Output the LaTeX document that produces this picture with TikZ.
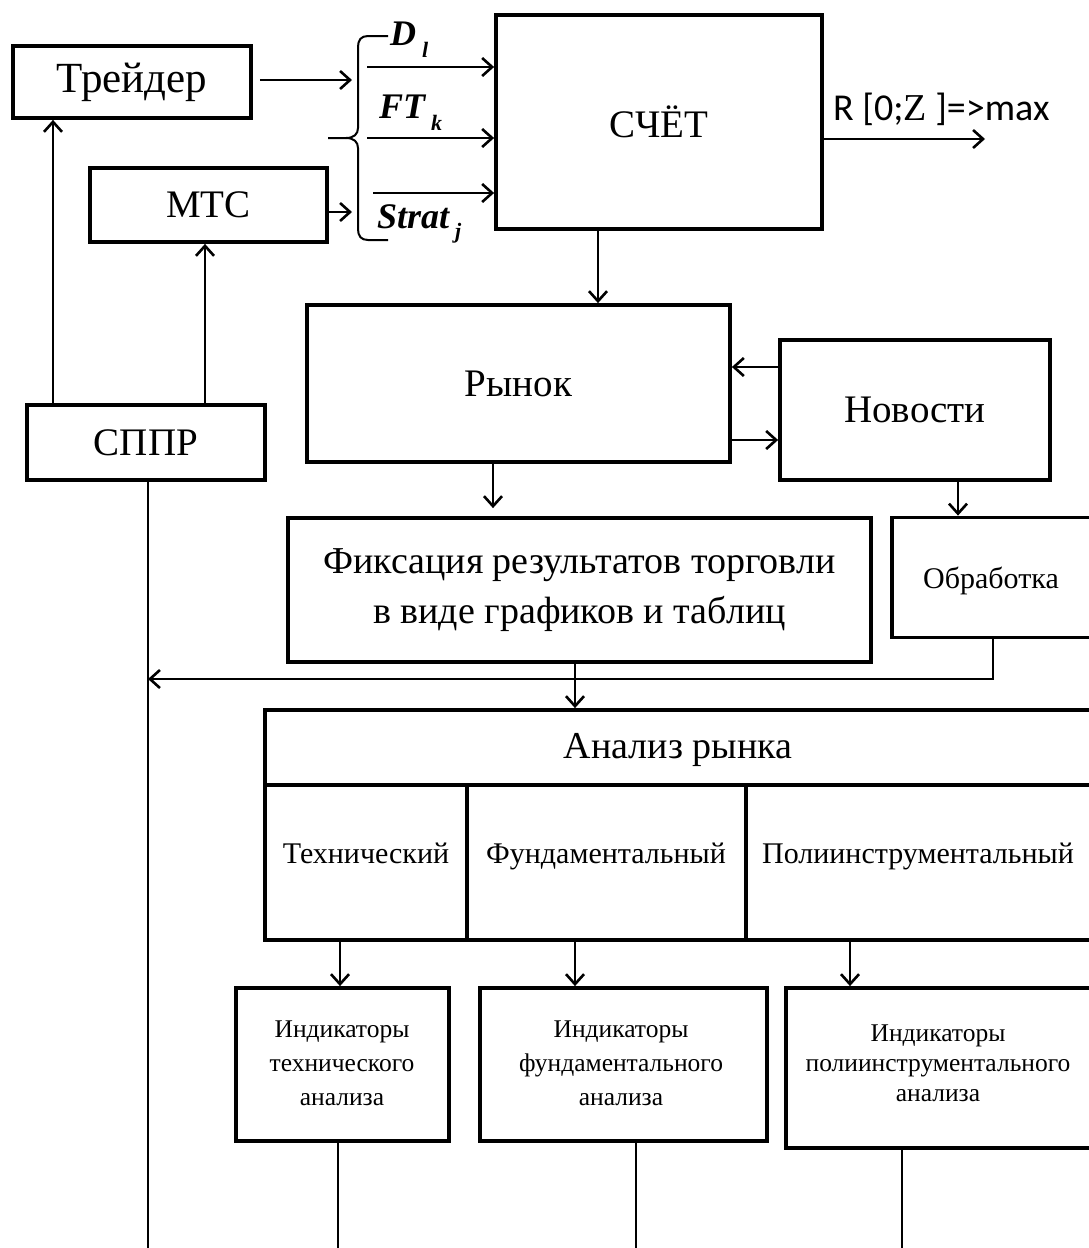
\documentclass[tikz,border=0pt]{standalone}
\usepackage{fontspec}
\setmainfont{Liberation Serif}
\newfontfamily\carl{Carlito}
\usetikzlibrary{arrows.meta}
\newcommand{\sbx}[2]{\raisebox{#1}{\fontsize{22}{24}\selectfont #2}}
\begin{document}
\begin{tikzpicture}[x=1pt,y=-1pt,
  box/.style={draw, line width=3.8pt, inner sep=0pt},
  con/.style={line width=2.6pt},
  arr/.style={con, -{Straight Barb[length=10pt,width=18pt,line width=2.6pt]}},
  txt/.style={inner sep=0pt, align=center},
  big/.style={font=\fontsize{39}{44}\selectfont},
  mid/.style={font=\fontsize{30}{34}\selectfont},
  small/.style={font=\fontsize{25.5}{34}\selectfont},
  lab/.style={inner sep=0pt, anchor=base west, font=\fontsize{36}{40}\selectfont\bfseries\itshape},
]
\useasboundingbox (0,0) rectangle (1089,1248);
\clip (0,0) rectangle (1089,1248);
\fill[white] (0,0) rectangle (1089,1248);

% boxes
\node[box, font=\fontsize{43}{46}\selectfont, minimum width=238, minimum height=72] (trader) at (132,82) {Трейдер};
\node[box, big, minimum width=237, minimum height=74] (mts) at (208.5,205) {МТС};
\node[box, big, minimum width=326, minimum height=214] (schet) at (659,122) {СЧЁТ};
\node[box, big, minimum width=423, minimum height=157] (rynok) at (518.5,383.5) {Рынок};
\node[box, big, minimum width=270, minimum height=140] (novosti) at (915,410) {Новости};
\node[box, font=\fontsize{38}{50}\selectfont, align=center, minimum width=583, minimum height=144] (fix) at (579.5,590) {Фиксация результатов торговли\\в виде графиков и таблиц};
\node[box, minimum width=208, minimum height=120] (obr) at (996,577.5) {};
\node[inner sep=0pt, anchor=base, font=\fontsize{30}{32}\selectfont] (obrt) at (991,588) {Обработка};
\node[box, big, minimum width=238, minimum height=75] (sppr) at (146,442.5) {СППР};

\node[box, minimum width=835, minimum height=75] (analiz) at (682.5,747.5) {};
\node[txt, font=\fontsize{38}{42}\selectfont] (analizt) at (678,750) {Анализ рынка};
\node[box, minimum width=202, minimum height=155] (col1) at (366,862.5) {};
\node[box, minimum width=279, minimum height=155] (col2) at (606.5,862.5) {};
\node[box, minimum width=354, minimum height=155] (col3) at (923,862.5) {};
\node[inner sep=0pt, anchor=base, mid] (col1t) at (366,863) {Технический};
\node[inner sep=0pt, anchor=base, mid] (col2t) at (606,863) {Фундаментальный};
\node[inner sep=0pt, anchor=base, mid] (col3t) at (918,863) {Полиинструментальный};

\node[box, minimum width=213, minimum height=153] (ind1) at (342.5,1064.5) {};
\node[box, minimum width=287, minimum height=153] (ind2) at (623.5,1064.5) {};
\node[box, minimum width=314, minimum height=160] (ind3) at (943,1068) {};
\node[txt, small] (ind1t) at (342,1063) {Индикаторы\\технического\\анализа};
\node[txt, small] (ind2t) at (621,1063) {Индикаторы\\фундаментального\\анализа};
\node[txt, font=\fontsize{25.5}{30}\selectfont] (ind3t) at (938,1063) {Индикаторы\\полиинструментального\\анализа};

% brace
\draw[con, line width=2pt] (388,36) -- (368,36) .. controls (361,36) and (358,40) .. (358,47) -- (358,128)
  .. controls (358,134) and (354,138) .. (346,138) -- (328,138);
\draw[con, line width=2pt] (346,138) .. controls (354,138) and (358,142) .. (358,148) -- (358,229)
  .. controls (358,236) and (361,240) .. (368,240) -- (388,240);

% labels
\node[lab] (dl) at (390,45) {D\,\sbx{-12pt}{l}};
\node[lab] (ftk) at (379,118) {FT\,\sbx{-12pt}{k}};
\node[lab] (strat) at (377,228) {Strat\,\sbx{-10pt}{j}};

% inputs to brace
\coordinate (bin1) at (352,80);
\coordinate (bin2) at (352,212);
\draw[arr] ([xshift=7pt]trader.east |- bin1) -- (bin1);
\draw[arr] (mts.east |- bin2) -- (bin2);

% arrows into СЧЁТ
\coordinate (a1) at (367,67);
\coordinate (a2) at (367,138);
\coordinate (a3) at (373,193);
\draw[arr] (a1) -- (schet.west |- a1);
\draw[arr] (a2) -- (schet.west |- a2);
\draw[arr] (a3) -- (schet.west |- a3);

% output
\coordinate (out) at (985,139);
\draw[arr] (schet.east |- out) -- (out);
\node[inner sep=0pt, anchor=base west, font=\carl\fontsize{38}{40}\selectfont] (rlab) at (833,120) {R [0;{\rmfamily Z} ]=>max};

% СЧЁТ -> Рынок
\draw[arr] (schet.south -| 598,0) -- (rynok.north -| 598,0);
% Новости <-> Рынок
\draw[arr] (novosti.west |- 0,367) -- (rynok.east |- 0,367);
\draw[arr] (rynok.east |- 0,440) -- (novosti.west |- 0,440);
% Рынок -> Фиксация
\draw[arr, shorten >=8pt] (rynok.south -| 493,0) -- (fix.north -| 493,0);
% Новости -> Обработка
\draw[arr] (novosti.south -| 958,0) -- (obr.north -| 958,0);
% Обработка -> СППР line
\coordinate (spprline) at (148,679);
\draw[arr] (obr.south -| 993,0) -- (993,679) -- (spprline);
% Фиксация -> Анализ
\draw[arr] (fix.south -| 575,0) -- (analiz.north -| 575,0);
% СППР -> Трейдер, МТС
\draw[arr] (sppr.north -| 53,0) -- (trader.south -| 53,0);
\draw[arr] (sppr.north -| 205,0) -- (mts.south -| 205,0);
% СППР down
\coordinate (spprend) at (148,1260);
\draw[con] (sppr.south -| 148,0) -- (spprend);
% Анализ -> индикаторы
\draw[arr] (col1.south -| 340,0) -- (ind1.north -| 340,0);
\draw[arr] (col2.south -| 575,0) -- (ind2.north -| 575,0);
\draw[arr] (col3.south -| 850,0) -- (ind3.north -| 850,0);
% down lines
\coordinate (e1) at (338,1260);
\coordinate (e2) at (636,1260);
\coordinate (e3) at (902,1260);
\draw[con] (ind1.south -| e1) -- (e1);
\draw[con] (ind2.south -| e2) -- (e2);
\draw[con] (ind3.south -| e3) -- (e3);
\end{tikzpicture}
\end{document}
